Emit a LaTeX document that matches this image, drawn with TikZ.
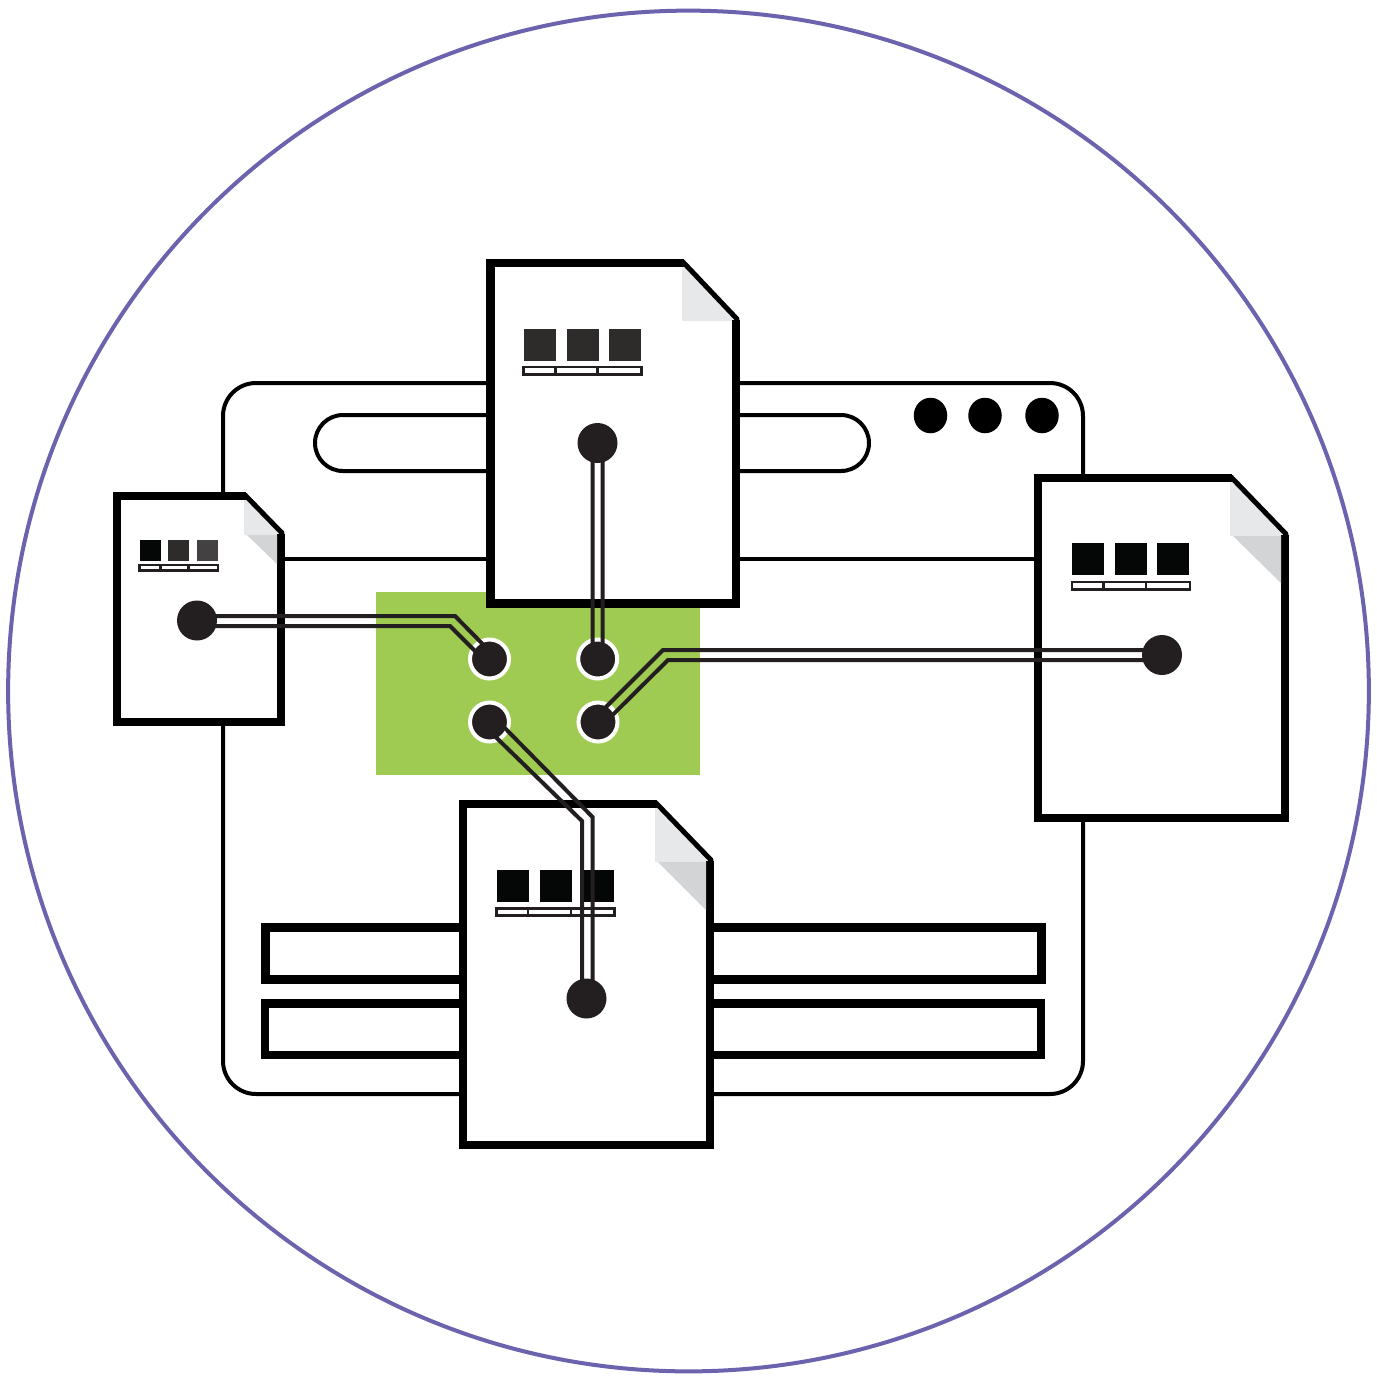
\documentclass[tikz,border=0pt]{standalone}
\usepackage{xcolor}
\usetikzlibrary{shapes.geometric}
\definecolor{ringblue}{HTML}{6C63AE}
\definecolor{boardgreen}{HTML}{A0CB52}
\definecolor{wireblack}{HTML}{231F20}
\definecolor{foldlight}{HTML}{E7E8EA}
\definecolor{foldshade}{HTML}{D3D4D5}
\definecolor{tileA}{HTML}{050706}
\definecolor{tileB}{HTML}{2E2C2B}
\definecolor{tileC}{HTML}{434141}
\tikzset{
  thin outline/.style={draw=black, line width=0.08cm, fill=white},
  thick outline/.style={draw=black, line width=0.165cm, fill=white},
  sheetedge/.style={draw=black, line width=0.165cm, line join=miter},
  sheetcut/.style={draw=black, line width=0.1cm, line cap=round},
  wire/.style={draw=wireblack, line width=0.08cm, line join=miter},
  tabdot/.style={ellipse, inner sep=0pt, minimum width=0.67cm, minimum height=0.71cm, fill=black},
  docdot/.style={circle, inner sep=0pt, minimum size=0.8cm, fill=wireblack},
  portdot/.style={circle, inner sep=0pt, minimum size=0.78cm, fill=wireblack, draw=white, line width=0.08cm},
  tilebar/.style={draw=wireblack, line width=0.045cm, fill=white}
}
% x1 y1 x2 y2 cutx cuty
\newcommand{\docsheet}[6]{
  \fill[white] (#1,#2) -- (#5,#2) -- (#3,#6) -- (#3,#4) -- (#1,#4) -- cycle;
  \fill[foldlight] (#5-1,#2) -- (#5-1,#6+1) -- (#3,#6+1) -- cycle;
  \draw[sheetedge] (#5+1,#2) -- (#1,#2) -- (#1,#4) -- (#3,#4) -- (#3,#6);
  \draw[sheetcut] (#5,#2-1) -- (#3+1,#6-1);
}
% x y size gap colour
\newcommand{\doctiles}[5]{
  \foreach \i in {0,1,2}
    \fill[#5] ({#1+\i*(#3+#4)},#2) rectangle ++(#3,#3);
}
% x1 y1 x2 y2 div1 div2
\newcommand{\tilestrip}[6]{
  \draw[tilebar] (#1,#2) rectangle (#3,#4);
  \draw[tilebar] (#5,#2) -- (#5,#4) (#6,#2) -- (#6,#4);
}
\begin{document}
\begin{tikzpicture}[x=0.02cm, y=-0.02cm]
  \useasboundingbox (0,0) rectangle (1377,1377);
  \fill[white] (0,0) rectangle (1377,1377);
  \draw[ringblue, line width=0.08cm] (688.5,691) circle [radius=13.61cm];

  % browser window
  \draw[thin outline, rounded corners=0.66cm] (223,383) rectangle (1083,1094);
  \draw[draw=black, line width=0.08cm] (223,559) -- (1083,559);
  \draw[thin outline, rounded corners=0.56cm] (315,415) rectangle (869,471);
  \node[tabdot] (tabA) at (930.5,415.5) {};
  \node[tabdot] (tabB) at (985,415.5) {};
  \node[tabdot] (tabC) at (1042,415.5) {};
  \draw[thick outline] (265.5,927.5) rectangle (1041.5,979.5);
  \draw[thick outline] (265,1003.5) rectangle (1041,1055);

  \fill[boardgreen] (376,592) rectangle (700,775);

  % top sheet
  \docsheet{490.5}{263}{736}{603.5}{683}{320}
  \doctiles{524}{329}{32}{10.7}{tileB}
  \tilestrip{523.5}{367}{641.5}{374.5}{555.5}{597.5}

  % left sheet
  \docsheet{117}{496}{281}{722}{245}{534}
  \fill[foldshade] (247,535) -- (277,535) -- (277,564) -- cycle;
  \fill[tileA] (140,540) rectangle ++(21,21);
  \fill[tileB] (168,540) rectangle ++(21,21);
  \fill[tileC] (197,540) rectangle ++(21,21);
  \tilestrip{139.5}{565}{218}{570.5}{160.5}{188.5}

  % right sheet
  \docsheet{1038}{478}{1285}{818}{1231}{535}
  \fill[foldshade] (1233,536) -- (1281,536) -- (1281,583) -- cycle;
  \doctiles{1072}{543}{32}{10.7}{tileA}
  \tilestrip{1072}{582}{1190}{589.5}{1103.5}{1146}

  % bottom sheet
  \docsheet{463}{804}{710}{1145}{656}{861}
  \fill[foldshade] (658,862) -- (706,862) -- (706,910) -- cycle;
  \doctiles{497}{870}{32}{10.5}{tileA}
  \tilestrip{496.5}{908.5}{614.5}{915.5}{528}{571}

  % dots on the sheets and ports on the board
  \node[docdot] (dotT) at (597.5,443) {};
  \node[docdot] (dotL) at (197,620.5) {};
  \node[docdot] (dotR) at (1162,655) {};
  \node[docdot] (dotB) at (586.5,998.5) {};
  \node[portdot] (portTL) at (489.5,659) {};
  \node[portdot] (portTR) at (597.7,659) {};
  \node[portdot] (portBL) at (489.5,722) {};
  \node[portdot] (portBR) at (598,722) {};

  % paired wires
  \draw[wire] ([xshift=-0.1cm]dotT.center) -- ([xshift=-0.1cm]portTR.center);
  \draw[wire] ([xshift=0.1cm]dotT.center) -- ([xshift=0.1cm]portTR.center);
  \draw[wire] ([yshift=0.09cm]dotL.center) -- (455,616) -- ([yshift=0.16cm]portTL.center);
  \draw[wire] ([yshift=-0.11cm]dotL.center) -- (450,626) -- ([xshift=-0.13cm]portTL.center);
  \draw[wire] ([yshift=0.1cm]dotR.center) -- (663,650) -- ([yshift=0.14cm]portBR.center);
  \draw[wire] ([yshift=-0.1cm]dotR.center) -- (668,660) -- ([xshift=0.13cm,yshift=-0.02cm]portBR.center);
  \draw[wire] ([xshift=0.15cm,yshift=0.04cm]portBL.center) -- (592.5,817) -- ([xshift=0.12cm]dotB.center);
  \draw[wire] ([yshift=-0.18cm]portBL.center) -- (582,821) -- ([xshift=-0.09cm]dotB.center);
\end{tikzpicture}
\end{document}
